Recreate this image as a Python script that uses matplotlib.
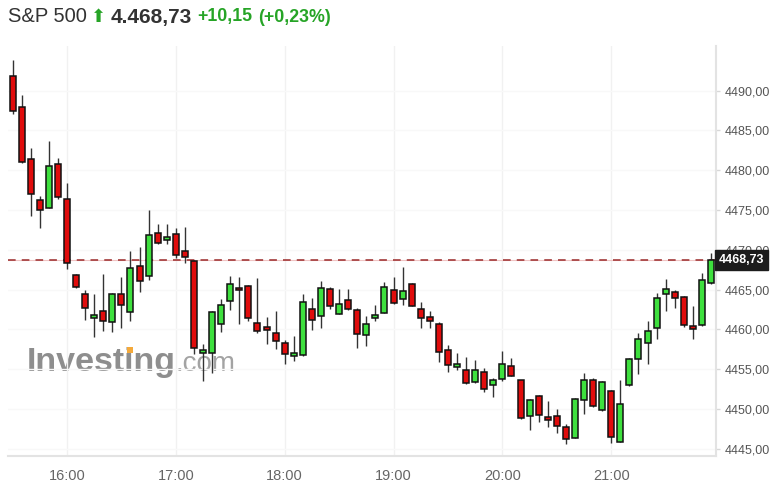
import matplotlib
matplotlib.use("Agg")
import matplotlib.pyplot as plt
from matplotlib.patches import Rectangle

# 5-minute candles, 15:30 .. 21:55
opens = [4491.8, 4487.9, 4481.4, 4476.2, 4475.3, 4480.8, 4476.4, 4466.8, 4464.4, 4461.4,
         4462.3, 4460.9, 4464.4, 4462.2, 4468.0, 4466.7, 4472.1, 4471.2, 4472.0, 4469.9,
         4468.6, 4457.0, 4457.1, 4460.7, 4463.6, 4465.2, 4465.4, 4460.8, 4460.25, 4459.6,
         4458.3, 4456.7, 4456.8, 4462.6, 4461.7, 4465.1, 4461.95, 4463.7, 4462.5, 4459.25,
         4461.4, 4462.05, 4465.0, 4463.8, 4465.7, 4462.6, 4461.5, 4460.7, 4457.4, 4455.3,
         4454.85, 4453.4, 4454.7, 4453.0, 4453.8, 4455.35, 4453.6, 4449.15, 4451.6, 4448.95,
         4449.1, 4447.7, 4446.35, 4451.1, 4453.7, 4449.9, 4452.3, 4445.9, 4453.0, 4456.3,
         4458.3, 4460.2, 4464.4, 4464.7, 4464.1, 4460.4, 4460.5, 4465.8]
highs = [4493.8, 4489.5, 4482.8, 4476.8, 4483.7, 4481.5, 4478.4, 4466.9, 4465.0, 4464.4,
         4466.9, 4464.6, 4466.6, 4469.9, 4470.3, 4475.0, 4473.3, 4473.2, 4472.7, 4472.9,
         4468.7, 4458.2, 4462.3, 4463.8, 4466.75, 4466.6, 4465.6, 4466.4, 4461.55, 4462.3,
         4458.7, 4459.2, 4464.4, 4464.0, 4466.1, 4465.3, 4465.1, 4465.1, 4462.7, 4461.7,
         4463.1, 4465.95, 4466.6, 4467.8, 4465.8, 4463.4, 4462.3, 4460.9, 4458.1, 4457.0,
         4456.5, 4456.1, 4455.1, 4453.9, 4457.3, 4456.4, 4453.7, 4451.2, 4451.8, 4451.0,
         4450.0, 4448.1, 4451.4, 4454.5, 4453.9, 4453.55, 4452.4, 4453.7, 4456.4, 4459.55,
         4461.1, 4464.6, 4466.3, 4465.0, 4464.2, 4462.9, 4467.1, 4469.6]
lows = [4487.1, 4480.9, 4474.3, 4472.7, 4475.2, 4476.4, 4467.6, 4465.2, 4461.2, 4459.1,
        4459.8, 4459.7, 4460.2, 4461.0, 4464.7, 4466.2, 4470.7, 4470.7, 4469.0, 4468.3,
        4456.9, 4453.5, 4454.5, 4459.7, 4462.4, 4460.7, 4461.0, 4459.6, 4458.2, 4457.5,
        4455.6, 4456.0, 4456.7, 4459.9, 4460.2, 4462.6, 4461.9, 4462.4, 4457.7, 4457.9,
        4461.0, 4462.0, 4463.2, 4463.1, 4462.9, 4460.2, 4460.2, 4455.9, 4454.7, 4454.9,
        4453.2, 4453.3, 4452.1, 4451.5, 4453.5, 4454.1, 4448.8, 4447.4, 4448.4, 4447.8,
        4447.05, 4445.6, 4446.3, 4449.4, 4450.3, 4449.7, 4445.7, 4445.8, 4452.9, 4454.4,
        4455.65, 4458.8, 4462.3, 4462.7, 4460.25, 4458.8, 4460.4, 4465.7]
closes = [4487.4, 4481.0, 4477.0, 4475.0, 4480.5, 4476.6, 4468.3, 4465.3, 4462.7, 4461.8,
          4461.1, 4464.4, 4463.1, 4467.7, 4466.1, 4471.8, 4470.9, 4471.6, 4469.4, 4469.1,
          4457.7, 4457.4, 4462.2, 4463.1, 4465.7, 4464.9, 4461.4, 4459.8, 4459.9, 4458.6,
          4456.9, 4457.0, 4463.5, 4461.2, 4465.2, 4463.0, 4463.2, 4462.6, 4459.4, 4460.7,
          4461.85, 4465.3, 4463.3, 4464.8, 4463.0, 4461.4, 4461.1, 4457.2, 4455.5, 4455.6,
          4453.3, 4454.85, 4452.5, 4453.6, 4455.7, 4454.2, 4448.9, 4451.1, 4449.2, 4448.6,
          4447.9, 4446.2, 4451.3, 4453.7, 4450.4, 4453.35, 4446.5, 4450.6, 4456.3, 4458.8,
          4459.75, 4464.0, 4465.1, 4463.9, 4460.5, 4460.05, 4466.25, 4468.73]

hour_labels = ["16:00", "17:00", "18:00", "19:00", "20:00", "21:00"]
hour_index = [6, 18, 30, 42, 54, 66]
y_ticks = [4445, 4450, 4455, 4460, 4465, 4470, 4475, 4480, 4485, 4490]
last_price = 4468.73

UP = "#3ee03e"
DOWN = "#e00c0c"
TXT_GREEN = "#26a426"

W, H = 784, 499
fig = plt.figure(figsize=(W / 100, H / 100), dpi=100)
fig.patch.set_facecolor("white")
ax = fig.add_axes([8 / W, (H - 456) / H, (716 - 8) / W, (456 - 46) / H])

# watermark behind the candles
wm_x, wm_y = 27 / W, 1 - 371 / H
wm = fig.text(wm_x, wm_y, "Investing", fontsize=24.5, fontweight="bold",
              color="#8e8e8e", family="Liberation Sans", zorder=0)
fig.text(176 / W, wm_y, ".com", fontsize=20, color="#a3a3a3",
         family="Liberation Sans", zorder=0)
# orange dot on the "i"
renderer = fig.canvas.get_renderer()
part = fig.text(wm_x, wm_y, "Invest", fontsize=24.5, fontweight="bold",
                family="Liberation Sans", alpha=0)
x_i = part.get_window_extent(renderer).x1 + 4.7
part.remove()
base_px = H - 371
fig.patches.append(Rectangle(((x_i - 3) / W, (base_px + 18.5) / H), 6 / W, 6 / H,
                             transform=fig.transFigure, facecolor="#f4a93a",
                             edgecolor="none", zorder=0.5))
ax.set_zorder(1)
ax.patch.set_alpha(0)

for i, (o, h, l, c) in enumerate(zip(opens, highs, lows, closes)):
    ax.vlines(i, l, h, color="#333333", lw=1, zorder=3)
    col = UP if c >= o else DOWN
    ax.add_patch(Rectangle((i - 0.33, min(o, c)), 0.66, max(abs(c - o), 0.25),
                           facecolor=col, edgecolor="#111111", lw=1.1, zorder=4))

# last price line
ax.axhline(last_price, color="#f0c4c4", lw=0.8, zorder=2)
ax.axhline(last_price, color="#9a2b2b", lw=1.1, dashes=(5, 4), zorder=2)

ax.set_xlim(-0.5, 77.55)
ax.set_ylim(4444.1, 4495.6)
ax.set_xticks(hour_index)
ax.set_xticklabels(hour_labels)
ax.set_yticks(y_ticks)
ax.set_yticklabels(["{:.2f}".format(v).replace(".", ",") for v in y_ticks])
ax.yaxis.tick_right()
ax.tick_params(axis="x", length=0, pad=9, labelsize=10.5, labelcolor="#666666")
ax.tick_params(axis="y", length=3, width=1, color="#d8d8d8", pad=3,
               labelsize=9, labelcolor="#555555")
for lab in ax.get_xticklabels() + ax.get_yticklabels():
    lab.set_family("Liberation Sans")
ax.grid(True, axis="x", color="#f1f1f1", lw=1)
ax.grid(True, axis="y", color="#f8f8f8", lw=1)
ax.set_axisbelow(True)
for s in ["top", "left"]:
    ax.spines[s].set_visible(False)
for s in ["right", "bottom"]:
    ax.spines[s].set_color("#e3e3e3")
    ax.spines[s].set_linewidth(1.5)

# price tag on the right axis
ax.annotate("4468,73", xy=(1.0, last_price), xycoords=("axes fraction", "data"),
            xytext=(2, 0), textcoords="offset points", ha="left", va="center",
            fontsize=9, fontweight="bold", color="white", family="Liberation Sans",
            bbox=dict(boxstyle="square,pad=0.3", fc="#1c1c1c", ec="#1c1c1c"),
            zorder=10, annotation_clip=False)

# header
ty = 1 - 17 / H
fig.text(8 / W, ty, "S&P 500", fontsize=14.5, color="#333333",
         family="Liberation Sans", va="center")
fig.text(91 / W, ty, "\u2b06", fontsize=13, color=TXT_GREEN,
         family="DejaVu Sans", va="center")
fig.text(111 / W, ty, "4.468,73", fontsize=15, fontweight="bold", color="#333333",
         family="Liberation Sans", va="center")
fig.text(197 / W, ty, "+10,15", fontsize=12.8, fontweight="bold", color=TXT_GREEN,
         family="Liberation Sans", va="center")
fig.text(258 / W, ty, "(+0,23%)", fontsize=12.8, fontweight="bold", color=TXT_GREEN,
         family="Liberation Sans", va="center")

fig.savefig("out.png", dpi=100)
